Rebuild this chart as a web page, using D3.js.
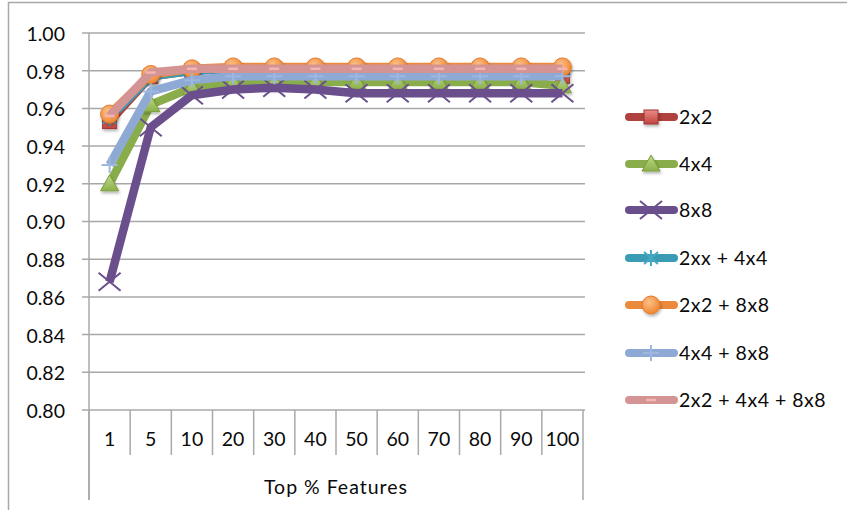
<!DOCTYPE html>
<html>
<head>
<meta charset="utf-8">
<script src="https://cdn.jsdelivr.net/npm/d3@7/dist/d3.min.js"></script>
<style>
  html, body { margin: 0; padding: 0; background: #fff; }
  svg { display: block; font-family: Lato, "Open Sans", sans-serif; }
</style>
</head>
<body>
<svg id="chart" width="847" height="510"></svg>
<script>
// Category axis: share of top-ranked features kept
const categories = ["1", "5", "10", "20", "30", "40", "50", "60", "70", "80", "90", "100"];

// Accuracy per feature-set combination
const s2x2      = [0.953, 0.977, 0.980, 0.981, 0.981, 0.981, 0.981, 0.981, 0.981, 0.981, 0.981, 0.977];
const s4x4      = [0.920, 0.962, 0.971, 0.974, 0.974, 0.974, 0.974, 0.974, 0.974, 0.974, 0.974, 0.972];
const s8x8      = [0.868, 0.950, 0.967, 0.970, 0.971, 0.970, 0.968, 0.968, 0.968, 0.968, 0.968, 0.968];
const s2xx4x4   = [0.955, 0.977, 0.980, 0.981, 0.981, 0.981, 0.981, 0.981, 0.981, 0.981, 0.981, 0.981];
const s2x28x8   = [0.957, 0.978, 0.981, 0.982, 0.982, 0.982, 0.982, 0.982, 0.982, 0.982, 0.982, 0.982];
const s4x48x8   = [0.930, 0.969, 0.975, 0.977, 0.977, 0.977, 0.977, 0.977, 0.977, 0.977, 0.977, 0.977];
const s2x24x48x8 = [0.956, 0.979, 0.981, 0.981, 0.981, 0.981, 0.981, 0.981, 0.981, 0.981, 0.981, 0.981];

const seriesNames = ["2x2", "4x4", "8x8", "2xx + 4x4", "2x2 + 8x8", "4x4 + 8x8", "2x2 + 4x4 + 8x8"];
const seriesValues = [s2x2, s4x4, s8x8, s2xx4x4, s2x28x8, s4x48x8, s2x24x48x8];

const yTicks = [0.80, 0.82, 0.84, 0.86, 0.88, 0.90, 0.92, 0.94, 0.96, 0.98, 1.00];
const axisTitle = "Top % Features";

const styles = [
  { line: "#b0413e", marker: "square" },
  { line: "#8aad4b", marker: "triangle" },
  { line: "#6b4f8c", marker: "x" },
  { line: "#3a9bb4", marker: "star" },
  { line: "#ec8a3c", marker: "circle" },
  { line: "#8eaad4", marker: "plus" },
  { line: "#d49493", marker: "dash" }
];

const svg = d3.select("#chart");
const gridColor = "#a8a8a8";
const fontSize = 19.5;
const textColor = "#0a0a0a";

const defs = svg.append("defs");
const sq = defs.append("linearGradient").attr("id", "gSquare").attr("x1", 0).attr("y1", 0).attr("x2", 0).attr("y2", 1);
sq.append("stop").attr("offset", "0%").attr("stop-color", "#ec8a87");
sq.append("stop").attr("offset", "100%").attr("stop-color", "#c0443f");
const tri = defs.append("linearGradient").attr("id", "gTri").attr("x1", 0).attr("y1", 0).attr("x2", 0).attr("y2", 1);
tri.append("stop").attr("offset", "0%").attr("stop-color", "#c0dc88");
tri.append("stop").attr("offset", "100%").attr("stop-color", "#8cb04a");
const circ = defs.append("radialGradient").attr("id", "gCirc").attr("cx", "40%").attr("cy", "35%").attr("r", "70%");
circ.append("stop").attr("offset", "0%").attr("stop-color", "#fcc08a");
circ.append("stop").attr("offset", "100%").attr("stop-color", "#ef8228");
const sh = defs.append("filter").attr("id", "shadow").attr("x", "-50%").attr("y", "-50%").attr("width", "200%").attr("height", "200%");
sh.append("feDropShadow").attr("dx", 1).attr("dy", 2).attr("stdDeviation", 1.5).attr("flood-color", "#000").attr("flood-opacity", 0.3);

// Chart frame (left and top edges)
svg.append("path")
  .attr("d", "M8.5,510 L8.5,2.5 L847,2.5")
  .attr("fill", "none").attr("stroke", gridColor).attr("stroke-width", 1.5);

const plotLeft = 89, plotRight = 583, plotTop = 33, plotBottom = 410;

const x = d3.scaleBand().domain(categories).range([plotLeft, plotRight]);
const y = d3.scaleLinear().domain([0.80, 1.00]).range([plotBottom, plotTop]);

// Horizontal gridlines with outside tick stubs
svg.append("g").selectAll("line").data(yTicks).join("line")
  .attr("x1", plotLeft - 7).attr("x2", plotRight + 2)
  .attr("y1", d => y(d)).attr("y2", d => y(d))
  .attr("stroke", gridColor).attr("stroke-width", 1.5);

// Value axis labels
svg.append("g").selectAll("text").data(yTicks).join("text")
  .attr("x", 65).attr("y", d => y(d) + 3)
  .attr("text-anchor", "end").attr("dominant-baseline", "middle")
  .attr("font-size", fontSize).attr("fill", textColor)
  .text(d => d.toFixed(2));

// Value axis line
svg.append("line")
  .attr("x1", plotLeft).attr("x2", plotLeft)
  .attr("y1", plotTop).attr("y2", plotBottom + 90)
  .attr("stroke", gridColor).attr("stroke-width", 1.5);

// Category separators
const bounds = categories.map(c => x(c)).concat([plotRight]);
svg.append("g").selectAll("line").data(bounds).join("line")
  .attr("x1", d => d).attr("x2", d => d)
  .attr("y1", plotBottom)
  .attr("y2", (d, i) => (i === 0 || i === bounds.length - 1) ? plotBottom + 90 : plotBottom + 45)
  .attr("stroke", gridColor).attr("stroke-width", 1.5);

// Category labels
svg.append("g").selectAll("text").data(categories).join("text")
  .attr("x", d => x(d) + x.bandwidth() / 2).attr("y", plotBottom + 31)
  .attr("text-anchor", "middle").attr("dominant-baseline", "middle")
  .attr("font-size", fontSize).attr("fill", textColor)
  .text(d => d);

svg.append("text")
  .attr("x", (plotLeft + plotRight) / 2).attr("y", plotBottom + 79)
  .attr("text-anchor", "middle").attr("dominant-baseline", "middle")
  .attr("font-size", fontSize).attr("letter-spacing", 1).attr("fill", textColor)
  .text(axisTitle);

function drawMarker(g, type, color, cx, cy) {
  const m = g.append("g").attr("transform", `translate(${cx},${cy})`);
  switch (type) {
    case "square":
      m.append("rect").attr("x", -7).attr("y", -7).attr("width", 14).attr("height", 14)
        .attr("fill", "url(#gSquare)").attr("stroke", "#9c3633").attr("stroke-width", 1)
        .attr("filter", "url(#shadow)");
      break;
    case "triangle":
      m.append("path").attr("d", "M0,-9 L9,7 L-9,7 Z")
        .attr("fill", "url(#gTri)").attr("stroke", "#7d9d3f").attr("stroke-width", 1)
        .attr("filter", "url(#shadow)");
      break;
    case "x":
      m.append("path").attr("d", "M-11,-9 L11,9 M-11,9 L11,-9")
        .attr("stroke", color).attr("stroke-width", 2).attr("fill", "none");
      break;
    case "star":
      m.append("path").attr("d", "M-7,-6 L7,6 M-7,6 L7,-6 M0,-8 L0,8")
        .attr("stroke", "#46a8c2").attr("stroke-width", 2).attr("fill", "none");
      break;
    case "circle":
      m.append("circle").attr("r", 9)
        .attr("fill", "url(#gCirc)").attr("stroke", "#e07a2e").attr("stroke-width", 1)
        .attr("filter", "url(#shadow)");
      break;
    case "plus":
      m.append("path").attr("d", "M-8,0 L8,0 M0,-8 L0,8")
        .attr("stroke", "#9db7de").attr("stroke-width", 2).attr("fill", "none");
      break;
    case "dash":
      m.append("path").attr("d", "M-5,0 L5,0")
        .attr("stroke", "#f3b4b2").attr("stroke-width", 2.5).attr("fill", "none");
      break;
  }
}

const line = d3.line()
  .x((d, i) => x(categories[i]) + x.bandwidth() / 2)
  .y(d => y(d));

// Series, drawn in order with markers on each line
seriesValues.forEach((vals, si) => {
  const st = styles[si];
  const g = svg.append("g");
  g.append("path").datum(vals)
    .attr("d", line)
    .attr("fill", "none").attr("stroke", st.line)
    .attr("stroke-width", 8.5).attr("stroke-linejoin", "round");
  vals.forEach((v, i) => drawMarker(g, st.marker, st.line, x(categories[i]) + x.bandwidth() / 2, y(v)));
});

// Legend
const legendY = [117, 164, 210, 258, 305, 353, 400];
seriesNames.forEach((name, si) => {
  const st = styles[si];
  const g = svg.append("g");
  const ly = legendY[si];
  g.append("line").attr("x1", 629).attr("x2", 674).attr("y1", ly).attr("y2", ly)
    .attr("stroke", st.line).attr("stroke-width", 8).attr("stroke-linecap", "round");
  drawMarker(g, st.marker, st.line, 651, ly);
  g.append("text").attr("x", 679).attr("y", ly + 2)
    .attr("dominant-baseline", "middle").attr("font-size", fontSize)
    .attr("letter-spacing", 0.5).attr("fill", textColor)
    .text(name);
});
</script>
</body>
</html>
